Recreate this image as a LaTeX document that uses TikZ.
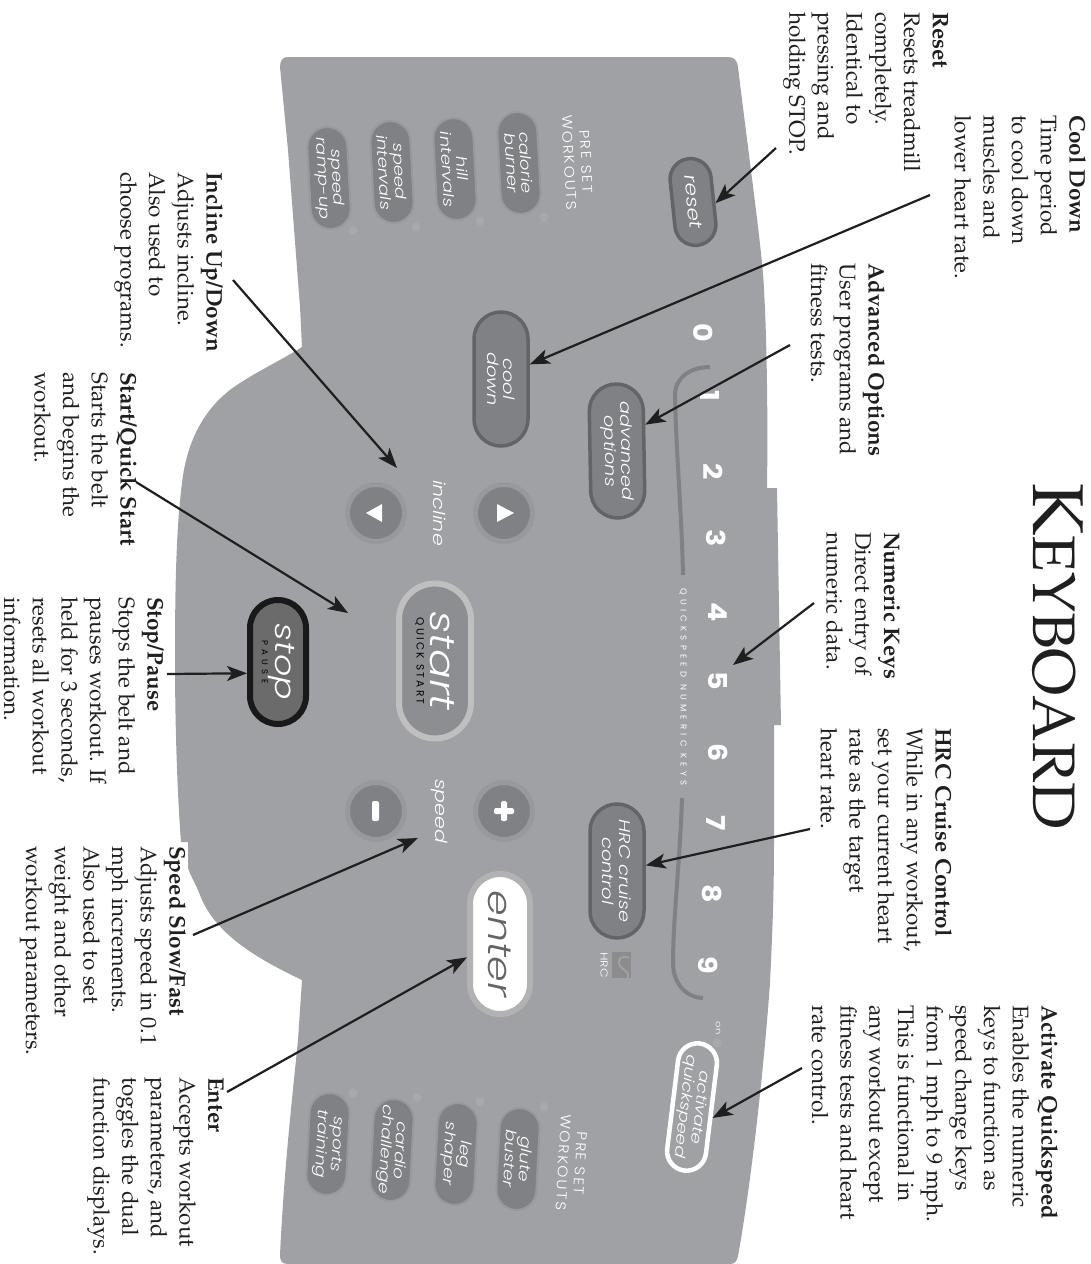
\documentclass[tikz,border=0pt]{standalone}
\usepackage{fontspec}
\usepackage{xcolor}
\usepackage{tikz}
\usetikzlibrary{arrows.meta,shapes.misc}
\newfontfamily\panelfont{Poppins Light}[FakeStretch=1.25]
\newfontfamily\digitfont{Poppins}[FakeStretch=1.1]
\newfontfamily\widefont{Poppins Light}[LetterSpace=12,FakeStretch=1.1]
\newfontfamily\capsfont{Poppins}[LetterSpace=22]
\newfontfamily\tinyfont{Poppins}[LetterSpace=50]
\newcommand\notefont{\fontencoding{OT1}\fontfamily{ppl}\fontsize{22.5}{28.7}\selectfont}
\definecolor{panelgray}{HTML}{A0A1A5}
\definecolor{keygray}{HTML}{808185}
\definecolor{ringgray}{HTML}{636467}
\definecolor{glowgray}{HTML}{98999D}
\definecolor{ledgray}{HTML}{A8A9AC}
\tikzset{
  >={Stealth[length=20pt,width=15pt,inset=5pt]},
  pointer/.style={->, line width=2.2pt, draw=black!88},
  note/.style={rotate=-90, anchor=north west, inner sep=0pt, align=left, font=\notefont, execute at begin node=\strut, text=black!88},
  rimkey/.style={rounded rectangle, draw=ringgray, line width=3.5pt, fill=keygray, inner sep=0pt, minimum width=134pt, minimum height=54pt, align=center, text=white, font=\panelfont\itshape\fontsize{15.5}{16.5}\selectfont},
  workout/.style={rounded rectangle, draw=glowgray, line width=2pt, fill=keygray, inner sep=0pt, minimum width=102pt, minimum height=40pt, align=center, text=white, font=\panelfont\itshape\fontsize{14.5}{14.5}\selectfont},
  roundkey/.style={circle, draw=glowgray, line width=5pt, fill=keygray, inner sep=0pt, minimum size=57pt},
  led/.style={circle, fill=ledgray, inner sep=0pt, minimum size=9pt},
  digit/.style={rotate=-90, inner sep=0pt, text=white, font=\digitfont\bfseries\fontsize{26}{26}\selectfont},
  paneltag/.style={rotate=-90, inner sep=0pt, text=white, font=\panelfont\itshape\fontsize{16.5}{20}\selectfont},
  presettag/.style={inner sep=0pt, align=center, text=white, font=\widefont\fontsize{14}{17}\selectfont},
  arcline/.style={draw=keygray, line width=4pt},
}
\begin{document}
\begin{tikzpicture}[x=1pt,y=-1pt]
  \useasboundingbox (0,0) rectangle (1090,1264);
  \fill[panelgray] (288,57) -- (728,57) .. controls (734,57) and (737,60) .. (738,67)
    .. controls (748,150) and (758,220) .. (763,273) .. controls (767,330) and (768,420) .. (767,488)
    -- (777,488) -- (781,725) -- (774,725) -- (774,840) .. controls (774,900) and (772,940) .. (770,983)
    .. controls (763,1080) and (750,1190) .. (738,1256) .. controls (737,1261) and (735,1264) .. (730,1264)
    -- (288,1264) .. controls (282,1264) and (280,1261) .. (280,1255)
    .. controls (284,1170) and (292,1100) .. (298,1040) -- (302,980)
    .. controls (260,960) and (215,935) .. (200,895) .. controls (194,880) and (190,875) .. (188,868)
    -- (188,842) -- (181,842) .. controls (177,790) and (175,720) .. (175,660)
    .. controls (175,590) and (176,530) .. (182,483) .. controls (187,440) and (205,405) .. (240,383)
    .. controls (260,370) and (285,358) .. (302,347) -- (300,307) -- (288,150)
    -- (280,67) .. controls (280,60) and (283,57) .. (288,57) -- cycle;

  \draw[arcline] (710,367) .. controls (690,367) and (675,378) .. (675,395) .. controls (676,450) and (682,520) .. (683,575);
  \draw[arcline] (682,798) .. controls (680,860) and (673,920) .. (673,963) .. controls (673,985) and (688,998) .. (703,998);

  \node[rimkey, minimum width=87pt, minimum height=41pt, rotate=-84, font=\panelfont\itshape\fontsize{17.5}{18}\selectfont] (resetkey) at (693,202) {reset};
  \node[rimkey, rotate=-90] (coolkey) at (501,379) {cool\\down};
  \node[rimkey, rotate=-89] (advancedkey) at (617,451) {advanced\\options};
  \node[rimkey, rotate=-90] (hrckey) at (617,871) {HRC cruise\\control};

  \node[workout, rotate=-87] (calorie) at (519,163) {calorie\\burner};
  \node[workout, rotate=-87] (hill) at (455,169) {hill\\intervals};
  \node[workout, rotate=-87] (speedint) at (392,172) {speed\\intervals};
  \node[workout, rotate=-87] (rampup) at (329,178) {speed\\ramp-up};
  \node[workout, rotate=-93] (glute) at (518,1159) {glute\\buster};
  \node[workout, rotate=-93] (leg) at (456,1154) {leg\\shaper};
  \node[workout, rotate=-93] (cardio) at (392,1150) {cardio\\challenge};
  \node[workout, rotate=-93] (sports) at (328,1144) {sports\\training};

  \node[led] (ledcalorie) at (544,217) {};
  \node[led] (ledhill) at (480,221) {};
  \node[led] (ledspeedint) at (416,227) {};
  \node[led] (ledrampup) at (353,231) {};
  \node[led] (ledglute) at (544,1107) {};
  \node[led] (ledleg) at (480,1102) {};
  \node[led] (ledcardio) at (417,1097) {};
  \node[led] (ledsports) at (353,1093) {};
  \node[led] (ledquick) at (717,1043) {};

  \node[presettag, rotate=-87] (presettop) at (578,162) {PRE SET\\WORKOUTS};
  \node[presettag, rotate=-93] (presetbottom) at (572,1163) {PRE SET\\WORKOUTS};

  \node[roundkey] (inclinedown) at (376,513) {};
  \node[roundkey] (inclineup) at (504,513) {};
  \node[roundkey] (speeddown) at (376,811) {};
  \node[roundkey] (speedup) at (504,811) {};
  \fill[white] (366,513) -- (382,504) -- (382,522) -- cycle;
  \fill[white] (514,513) -- (497,504) -- (497,522) -- cycle;
  \fill[white, rounded corners=2pt] (372,801) rectangle (379,821);
  \fill[white, rounded corners=1.5pt] (501,801) rectangle (507,821);
  \fill[white, rounded corners=1.5pt] (494,808) rectangle (514,814);
  \node[paneltag] (inclinetag) at (440,513) {incline};
  \node[paneltag] (speedtag) at (439,811) {speed};

  \node[rimkey, rotate=-90, draw=white!75!black, line width=6pt, fill=keygray!90!white, minimum width=155pt, minimum height=72pt, font=\panelfont\fontsize{10}{13}\selectfont] (startkey) at (435,661)
    {{\panelfont\itshape\fontsize{35}{34}\selectfont start}\\[1pt]{\color{black}\capsfont\fontsize{10.5}{11}\selectfont QUICK START}};
  \node[rimkey, rotate=-90, draw=black!90, line width=6pt, fill=black!58, minimum width=124pt, minimum height=56pt, font=\panelfont\fontsize{10}{13}\selectfont] (stopkey) at (278,662)
    {{\panelfont\itshape\fontsize{28}{26}\selectfont stop}\\[-1pt]{\color{black}\tinyfont\fontsize{8.5}{8.5}\selectfont PAUSE}};
  \node[rimkey, rotate=-90, draw=white!70!black, fill=white, line width=6pt, minimum width=140pt, minimum height=60pt, text=ringgray, font=\panelfont\itshape\fontsize{33}{33}\selectfont] (enterkey) at (500,944) {enter};
  \node[rimkey, rotate=-97, draw=white, fill=panelgray, line width=4.5pt, minimum width=128pt, minimum height=39pt, font=\panelfont\itshape\fontsize{14.5}{15}\selectfont] (quickkey) at (692,1107) {activate\\quickspeed};

  \node[digit] (zero) at (703,333) {0};
  \node[digit] (one) at (710,396) {1};
  \node[digit] (two) at (713,472) {2};
  \node[digit] (three) at (716,538) {3};
  \node[digit] (four) at (718,612) {4};
  \node[digit] (five) at (718,681) {5};
  \node[digit] (six) at (718,753) {6};
  \node[digit] (seven) at (716,823) {7};
  \node[digit] (eight) at (712,894) {8};
  \node[digit] (nine) at (708,965) {9};
  \node[rotate=-90, inner sep=0pt, text=white, font=\tinyfont\fontsize{8.5}{8.5}\selectfont] (quicktag) at (683,687) {QUICKSPEED NUMERIC KEYS};
  \node[rotate=-90, inner sep=0pt, text=white, font=\panelfont\fontsize{8}{8}\selectfont] (ontag) at (718,1028) {on};
  \node[rotate=-90, inner sep=0pt, text=white, font=\panelfont\fontsize{10}{10}\selectfont] (hrctag) at (604,965) {HRC};
  \node[rectangle, fill=black!45, inner sep=0pt, minimum width=19pt, minimum height=26pt] (hrclogo) at (621,965) {};
  \draw[panelgray, line width=2pt] (629,958) .. controls (622,954) and (616,960) .. (620,966) .. controls (624,971) and (630,972) .. (628,978);

  \node[rotate=-90, inner sep=0pt, anchor=base west, font=\notefont, text=black!88] (title) at (1033,483) {\fontsize{72}{72}\selectfont K\fontsize{60}{60}\selectfont EYBOARD};

  \node[note] (resetnote) at (948.4,12) {\textbf{Reset}\\Resets treadmill\\completely.\\Identical to\\pressing and\\holding STOP.};
  \node[note] (coolnote) at (1086,115) {\textbf{Cool Down}\\Time period\\to cool down\\muscles and\\lower heart rate.};
  \node[note] (advancednote) at (885,263) {\textbf{Advanced Options}\\User programs and\\fitness tests.};
  \node[note] (numericnote) at (900,532) {\textbf{Numeric Keys}\\Direct entry of\\numeric data.};
  \node[note] (hrcnote) at (952,728) {\textbf{HRC Cruise Control}\\While in any workout,\\set your current heart\\rate as the target\\heart rate.};
  \node[note] (quicknote) at (1058,1005) {\textbf{Activate Quickspeed}\\Enables the numeric\\keys to function as\\speed change keys\\from 1 mph to 9 mph.\\This is functional in\\any workout except\\fitness tests and heart\\rate control.};
  \node[note] (inclinenote) at (223,172) {\textbf{Incline Up/Down}\\Adjusts incline.\\Also used to\\choose programs.};
  \node[note] (startnote) at (137,372) {\textbf{Start/Quick Start}\\Starts the belt\\and begins the\\workout.};
  \node[note] (stopnote) at (164,597) {\textbf{Stop/Pause}\\Stops the belt and\\pauses workout. If\\held for 3 seconds,\\resets all workout\\information.};
  \node[note] (speednote) at (186,846) {\textbf{Speed Slow/Fast}\\Adjusts speed in 0.1\\mph increments.\\Also used to set\\weight and other\\workout parameters.};
  \node[note] (enternote) at (224,1077) {\textbf{Enter}\\Accepts workout\\parameters, and\\toggles the dual\\function displays.};

  \coordinate (resettail) at (776,148);
  \coordinate (cooltail) at (930,195);
  \coordinate (advancedtail) at (790,345);
  \coordinate (numerictail) at (814,603);
  \coordinate (numerictip) at (733,665);
  \coordinate (hrctail) at (810,829);
  \coordinate (quicktail) at (802,1068);
  \coordinate (inclinetail) at (233,280);
  \coordinate (inclinetip) at (397,468);
  \coordinate (starttail) at (136,482);
  \coordinate (starttip) at (348,613);
  \coordinate (stoptail) at (167,674);
  \coordinate (speedtail) at (193,935);
  \coordinate (speedtip) at (418,838);
  \coordinate (entertail) at (227,1092);

  \draw[pointer] (resettail) -- (resetkey.81);
  \draw[pointer] (cooltail) -- (coolkey.117);
  \draw[pointer] (advancedtail) -- (advancedkey.132);
  \draw[pointer] (numerictail) -- (numerictip);
  \draw[pointer] (hrctail) -- (hrckey.101);
  \draw[pointer] (quicktail) -- (quickkey.69);
  \draw[pointer] (inclinetail) -- (inclinetip);
  \draw[pointer] (starttail) -- (starttip);
  \draw[pointer] (stoptail) -- (stopkey.290);
  \draw[pointer] (speedtail) -- (speedtip);
  \draw[pointer] (entertail) -- (enterkey.292);
\end{tikzpicture}
\end{document}
